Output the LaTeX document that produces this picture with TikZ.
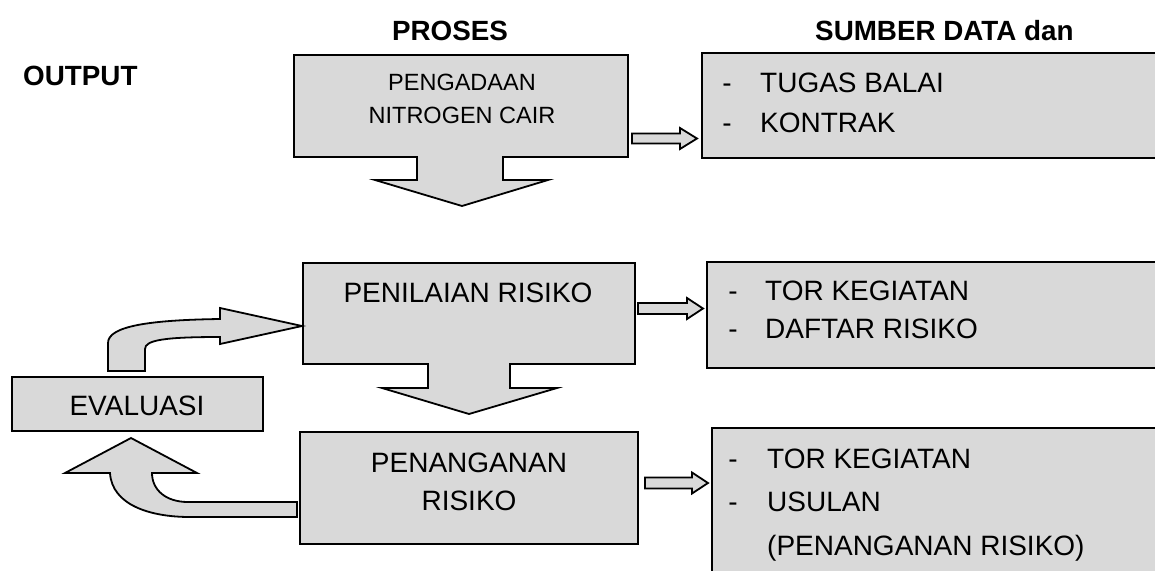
\documentclass[tikz,border=0pt]{standalone}
\usepackage{fontspec}
\setmainfont{Liberation Sans}
\definecolor{boxgray}{HTML}{D9D9D9}
\begin{document}
\begin{tikzpicture}[x=1pt,y=-1pt,
  shape outline/.style={draw=black,line width=1.8pt,fill=boxgray,line join=miter},
  boxtext/.style={inner sep=0pt,text height=20.2pt,text depth=0pt,font=\fontsize{28}{34}\selectfont},
  smalltext/.style={inner sep=0pt,text height=16.9pt,text depth=0pt,font=\fontsize{23.5}{28}\selectfont},
  headtext/.style={inner sep=0pt,text height=20pt,text depth=0pt,font=\fontsize{27.8}{33}\selectfont\bfseries}]
\useasboundingbox (0,0) rectangle (1155,570);
\clip (0,0) rectangle (1155,570);

% headers
\node[headtext] (hproses) at (450,30) {PROSES};
\node[headtext,anchor=west] (hsumber) at (815,30) {SUMBER DATA dan};
\node[headtext,anchor=west] (houtput) at (23,75) {OUTPUT};

% box 1 with down arrow
\path[shape outline] (294,55) -- (628,55) -- (628,157) -- (503,157) -- (503,180) -- (548,180)
  -- (462,206) -- (375,180) -- (417,180) -- (417,157) -- (294,157) -- cycle;
\node[smalltext] (t1a) at (462,82) {PENGADAAN};
\node[smalltext] (t1b) at (462,115) {NITROGEN CAIR};

% box 2 with down arrow
\path[shape outline] (303,263) -- (635,263) -- (635,364) -- (510,364) -- (510,388) -- (557,388)
  -- (469,414) -- (382,388) -- (428,388) -- (428,364) -- (303,364) -- cycle;
\node[boxtext] (t2) at (468,292) {PENILAIAN RISIKO};

% box 3
\path[shape outline] (300,432) rectangle (638,544);
\node[boxtext] (t3a) at (469,462) {PENANGANAN};
\node[boxtext] (t3b) at (469,500) {RISIKO};

% evaluasi
\path[shape outline] (12,377) rectangle (263,431);
\node[boxtext] (tev) at (137,405) {EVALUASI};

% right boxes
\path[shape outline] (702,53) rectangle (1170,158);
\node[boxtext] (d1a) at (727,82) {-};
\node[boxtext,anchor=west] (r1a) at (760,82) {TUGAS BALAI};
\node[boxtext] (d1b) at (727,122) {-};
\node[boxtext,anchor=west] (r1b) at (760,122) {KONTRAK};

\path[shape outline] (707,262) rectangle (1170,368);
\node[boxtext] (d2a) at (733,290) {-};
\node[boxtext,anchor=west] (r2a) at (765,290) {TOR KEGIATAN};
\node[boxtext] (d2b) at (733,328) {-};
\node[boxtext,anchor=west] (r2b) at (765,328) {DAFTAR RISIKO};

\path[shape outline] (712,428) rectangle (1170,590);
\node[boxtext] (d3a) at (733,458) {-};
\node[boxtext,anchor=west] (r3a) at (767,458) {TOR KEGIATAN};
\node[boxtext] (d3b) at (733,501) {-};
\node[boxtext,anchor=west] (r3b) at (767,501) {USULAN};
\node[boxtext,anchor=west] (r3c) at (767,545) {(PENANGANAN RISIKO)};

% small block arrows
\path[shape outline] (632,133.5) -- (680,133.5) -- (680,128) -- (697,138.5) -- (680,149) -- (680,143.5) -- (632,143.5) -- cycle;
\path[shape outline] (638,303) -- (687,303) -- (687,298) -- (703,308.5) -- (687,319) -- (687,314) -- (638,314) -- cycle;
\path[shape outline] (645,477.5) -- (692,477.5) -- (692,472.5) -- (708,483) -- (692,493.5) -- (692,488.5) -- (645,488.5) -- cycle;

% curved arrow from EVALUASI up to PENILAIAN
\path[shape outline] (108,371) -- (108,343) .. controls (108,326) and (150,320) .. (220,319)
  -- (220,308) -- (302,326) -- (220,344) -- (220,337)
  .. controls (165,337) and (145,340) .. (145,349) -- (145,371) -- cycle;

% curved arrow from PENANGANAN up to EVALUASI
\path[shape outline] (297,502) -- (188,502) .. controls (166,502) and (152,490) .. (152,473)
  -- (197,473) -- (131,438) -- (65,473) -- (110,473)
  .. controls (112,505) and (150,517) .. (190,517) -- (297,517) -- cycle;
\end{tikzpicture}
\end{document}
